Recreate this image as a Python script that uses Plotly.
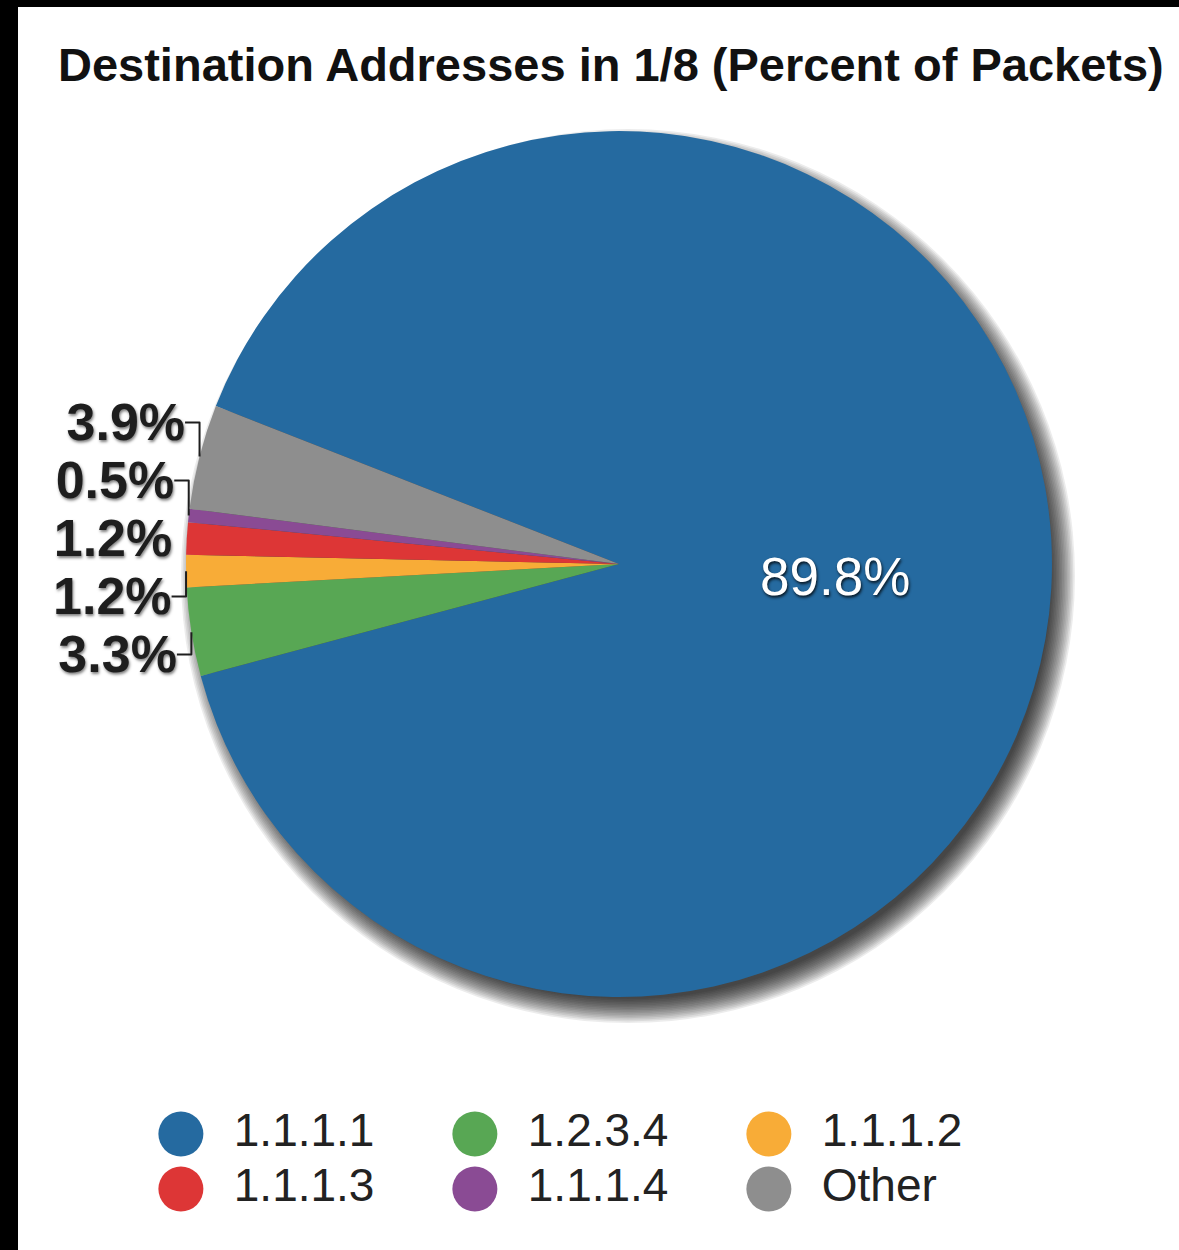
import plotly.graph_objects as go

# ---- data ----
labels = ["1.1.1.1", "1.2.3.4", "1.1.1.2", "1.1.1.3", "1.1.1.4", "Other"]
values = [89.8, 3.3, 1.2, 1.2, 0.5, 3.9]
colors = ["#256AA0", "#58A754", "#F8AC37", "#DD3636", "#8A4B94", "#8E8E8E"]
title_text = "Destination Addresses in 1/8 (Percent of Packets)"

W, H = 1179, 1250
ML, MT = 18, 7
PW, PH = W - ML, H - MT

FONT = "Liberation Sans, Arial, Helvetica, sans-serif"

DOM_X = [0.1447, 0.8906]
DOM_Y = [0.2035, 0.9002]

fig = go.Figure()

fig.add_trace(go.Pie(
    labels=labels,
    values=values,
    sort=False,
    direction="clockwise",
    rotation=-68.6,
    marker=dict(colors=colors, line=dict(width=0)),
    texttemplate="%{value:.1f}%",
    textposition=["inside", "outside", "outside", "outside", "outside", "outside"],
    insidetextorientation="horizontal",
    insidetextfont=dict(family=FONT, size=53, color="white",
                        shadow="1px 2px 3px rgba(0,0,0,0.8)"),
    outsidetextfont=dict(family=FONT, size=52, color="#1e1e1e", weight="bold",
                         shadow="1px 2px 3px rgba(0,0,0,0.5)"),
    domain=dict(x=DOM_X, y=DOM_Y),
    showlegend=False,
    hoverinfo="label+percent",
))

# ---- custom legend (3 columns x 2 rows) built from the categories ----
cols = [i % 3 for i in range(len(labels))]
rows = [-(i // 3) for i in range(len(labels))]
fig.add_trace(go.Scatter(
    x=cols, y=rows, mode="markers",
    marker=dict(size=45, color=colors, line=dict(width=0)),
    showlegend=False, hoverinfo="skip", cliponaxis=False,
))
fig.add_trace(go.Scatter(
    x=[c + 0.18 for c in cols], y=rows, mode="text",
    text=labels, textposition="middle right",
    textfont=dict(family=FONT, size=46, color="#222222"),
    showlegend=False, hoverinfo="skip", cliponaxis=False,
))

fig.update_xaxes(visible=False, range=[-0.554, 3.395], domain=[0, 1], fixedrange=True)
fig.update_yaxes(visible=False, range=[-2.109, 20.491], domain=[0, 1], fixedrange=True)

# white panel
fig.add_shape(type="rect", xref="paper", yref="paper", x0=0, x1=1, y0=0, y1=1,
              fillcolor="white", line=dict(width=0), layer="below")

# soft drop shadow behind the pie (derived from the pie domain)
cxp = (DOM_X[0] + DOM_X[1]) / 2
cyp = (DOM_Y[0] + DOM_Y[1]) / 2
rad = min(PW * (DOM_X[1] - DOM_X[0]), PH * (DOM_Y[1] - DOM_Y[0])) / 2
sdx, sdy = 9, -12
for k in range(16):
    rr = rad - 10 + 1.6 * k
    fig.add_shape(type="circle", xref="paper", yref="paper",
                  xsizemode="pixel", ysizemode="pixel",
                  xanchor=cxp, yanchor=cyp,
                  x0=sdx - rr, x1=sdx + rr, y0=sdy - rr, y1=sdy + rr,
                  fillcolor="rgba(0,0,0,0.075)", line=dict(width=0), layer="below")

fig.update_layout(
    width=W, height=H,
    margin=dict(l=ML, r=0, t=MT, b=0, pad=0),
    paper_bgcolor="black",
    plot_bgcolor="white",
    title=dict(text="<b>" + title_text + "</b>", x=58 / W, xanchor="left",
               y=1 - 65 / H, yanchor="middle",
               font=dict(family=FONT, size=47, color="#111111")),
    showlegend=False,
)

fig.write_html("out.html",
               config={"displayModeBar": False},
               post_script="document.body.style.margin='0';document.body.style.background='black';")
